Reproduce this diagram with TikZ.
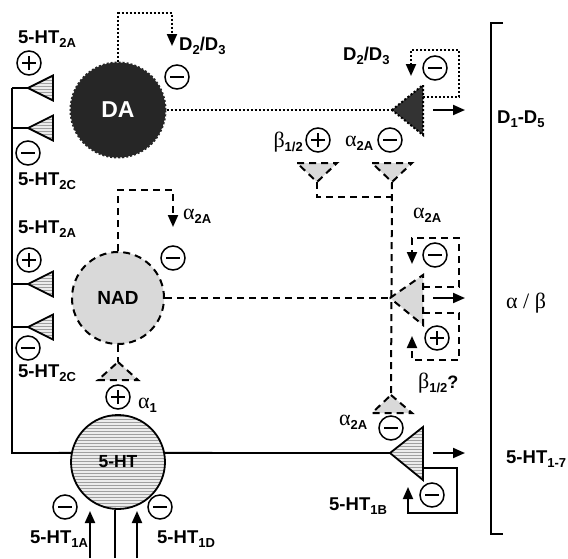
\documentclass[tikz,border=0pt]{standalone}
\usepackage{fontspec}
\setmainfont{Liberation Sans}
\newfontfamily\grk{Liberation Serif}
\usetikzlibrary{patterns,arrows.meta}
\newcommand{\sub}[1]{\raisebox{-4.5pt}{\normalfont\fontsize{13}{13}\bfseries\selectfont #1}}
\newcommand{\qm}{{\normalfont\fontsize{18}{18}\bfseries\selectfont ?}}
\tikzset{
  sgn/.style={draw, circle, line width=1.5pt, minimum size=24pt, inner sep=0pt},
  inhib/.style={sgn, path picture={\draw[line width=2.6pt] ([xshift=-7pt]path picture bounding box.center) -- ([xshift=7pt]path picture bounding box.center);}},
  excit/.style={sgn, path picture={\draw[line width=2.6pt] ([xshift=-7pt]path picture bounding box.center) -- ([xshift=7pt]path picture bounding box.center) ([yshift=-7pt]path picture bounding box.center) -- ([yshift=7pt]path picture bounding box.center);}},
  lbl/.style={font=\fontsize{18.5}{18.5}\bfseries\selectfont, inner sep=0pt, anchor=base west},
  glbl/.style={font=\fontsize{22}{22}\grk, inner sep=0pt, anchor=base west},
  dotln/.style={line width=2pt, dash pattern=on 2pt off 2pt},
  dashln/.style={line width=2pt, dash pattern=on 7pt off 5pt},
  sol/.style={line width=1.8pt},
  tipa/.style={-{Triangle[length=12pt,width=10pt]}},
  htfill/.style={preaction={fill=gray!15}, pattern=horizontal lines, pattern color=gray!75},
}

\begin{document}
\begin{tikzpicture}[x=1pt,y=-1pt]
\useasboundingbox (0,0) rectangle (568,558);

% cell bodies
\node[circle, minimum size=95pt, fill=black!85, draw=black!85, dotln, text=white,
      font=\fontsize{23}{23}\bfseries\selectfont] (DA) at (118,110) {DA};
\node[circle, minimum size=92pt, fill=gray!30, draw, dashln,
      font=\fontsize{19}{19}\bfseries\selectfont] (NAD) at (118,298) {NAD};
\node[circle, minimum size=94pt, draw, sol, htfill,
      font=\fontsize{17.5}{17.5}\bfseries\selectfont] (HT) at (118,462) {5-HT};

% terminals
\coordinate (daT) at (392,110);
\coordinate (nadT) at (390,298);
\coordinate (htT) at (390,453);
\draw[dotln, fill=black!80] (daT) -- (423,85) -- (423,135) -- cycle;
\draw[dashln, fill=gray!30] (nadT) -- (423,275) -- (423,325) -- cycle;
\draw[sol, htfill] (htT) -- (423,427) -- (423,480) -- cycle;
\foreach \y in {110,298,453}
{
  \draw[line width=2pt, tipa] (433,\y) -- (465,\y);
}

% 5-HT2A / 5-HT2C receptors
\draw[sol] (HT.169) -- (12,453) -- (12,88);
\foreach \y in {88,128,284,327}
{
  \draw[sol] (12,\y) -- (28,\y);
  \draw[sol, htfill] (28,\y) -- (53,\y-12.5) -- (53,\y+12.5) -- cycle;
}
\node[excit] (p1) at (29,63) {};
\node[inhib] (m1) at (28,153) {};
\node[excit] (p2) at (29,260) {};
\node[inhib] (m2) at (28,348) {};
\node[lbl] at (18,43) {5-HT\sub{2A}};
\node[lbl] at (18,185) {5-HT\sub{2C}};
\node[lbl] at (18,233) {5-HT\sub{2A}};
\node[lbl] at (18,377) {5-HT\sub{2C}};

% 5-HT to terminal
\draw[sol] (HT.11) -- (htT);

% DA autoreceptors
\coordinate (daFb) at (172,46);
\draw[dotln, tipa] (DA.north) -- (DA.north |- 0,13) -| (daFb);
\node[inhib] (m3) at (177,77) {};
\node[lbl] at (179,50) {D\sub{2}/D\sub{3}};
\draw[dotln] (DA.east) -- (daT);
\draw[dotln, tipa] (423,97) -- (459,97) -- (459,50) -- (411,50) -- (411,76);
\node[inhib] (m4) at (435,68) {};
\node[lbl] at (343,60) {D\sub{2}/D\sub{3}};

% NAD
\coordinate (nadFb) at (173,227);
\draw[dashln, tipa] (NAD.north) -- (NAD.north |- 0,190) -| (nadFb);
\node[inhib] (m5) at (173,258) {};
\node[glbl] at (183,219) {α\sub{2A}};
\draw[dashln] (NAD.east) -- (nadT);
\coordinate (a1T) at (118,362);
\draw[dashln] (NAD.south) -- (a1T);
\draw[dashln, fill=gray!30] (a1T) -- (138,380) -- (98,380) -- cycle;
\node[excit] (p3) at (118,397) {};
\node[glbl] at (138,408) {α\sub{1}};

% heteroreceptors on DA terminal
\coordinate (b12) at (317,182);
\coordinate (a2A) at (392,182);
\draw[dashln, fill=gray!30] (297,163) -- (337,163) -- (b12) -- cycle;
\draw[dashln, fill=gray!30] (372,163) -- (412,163) -- (a2A) -- cycle;
\draw[dashln] (b12) -- (317,197) -- (392,197);
\coordinate (htA) at (391,395);
\draw[dashln] (a2A) -- (htA);
\node[excit] (p4) at (318,140) {};
\node[inhib] (m6) at (390,140) {};
\node[glbl, anchor=base east] at (303,147) {β\sub{1/2}};
\node[glbl] at (345,146) {α\sub{2A}};

% NAD autoreceptors
\draw[dashln, tipa] (423,287) -- (459,287) -- (459,238) -- (412,238) -- (412,264);
\draw[dashln, tipa] (423,313) -- (459,313) -- (459,360) -- (412,360) -- (412,336);
\node[inhib] (m7) at (435,255) {};
\node[excit] (p5) at (437,338) {};
\node[glbl] at (413,218) {α\sub{2A}};
\node[glbl] at (418,388) {β\sub{1/2}\qm};

% alpha2A on 5-HT terminal
\draw[dashln, fill=gray!30] (htA) -- (412,413) -- (372,413) -- cycle;
\node[inhib] (m8) at (391,428) {};
\node[glbl] at (339,425) {α\sub{2A}};

% 5-HT1B autoreceptor
\draw[sol, tipa] (423,468) -- (457,468) -- (457,513) -- (408,513) -- (408,487);
\node[inhib] (m9) at (432,495) {};
\node[lbl] at (329,510) {5-HT\sub{1B}};

% somatodendritic 5-HT1A / 5-HT1D
\coordinate (inA) at (90,558);
\coordinate (inB) at (115,558);
\coordinate (inC) at (137,558);
\draw[line width=2pt, tipa] (inA) -- (90,511);
\draw[line width=2pt, tipa] (inC) -- (137,511);
\draw[line width=2pt] (inB) -- (115,510);
\node[inhib] (m10) at (65,507) {};
\node[inhib] (m11) at (160,507) {};
\node[lbl] at (30,543) {5-HT\sub{1A}};
\node[lbl] at (157,543) {5-HT\sub{1D}};

% receptor families
\draw[line width=2pt] (503,23) -- (491,23) -- (491,534) -- (503,534);
\node[lbl] at (497,123) {D\sub{1}-D\sub{5}};
\node[glbl] at (506,308) {α / β};
\node[lbl] at (506,463) {5-HT\sub{1-7}};
\end{tikzpicture}
\end{document}
